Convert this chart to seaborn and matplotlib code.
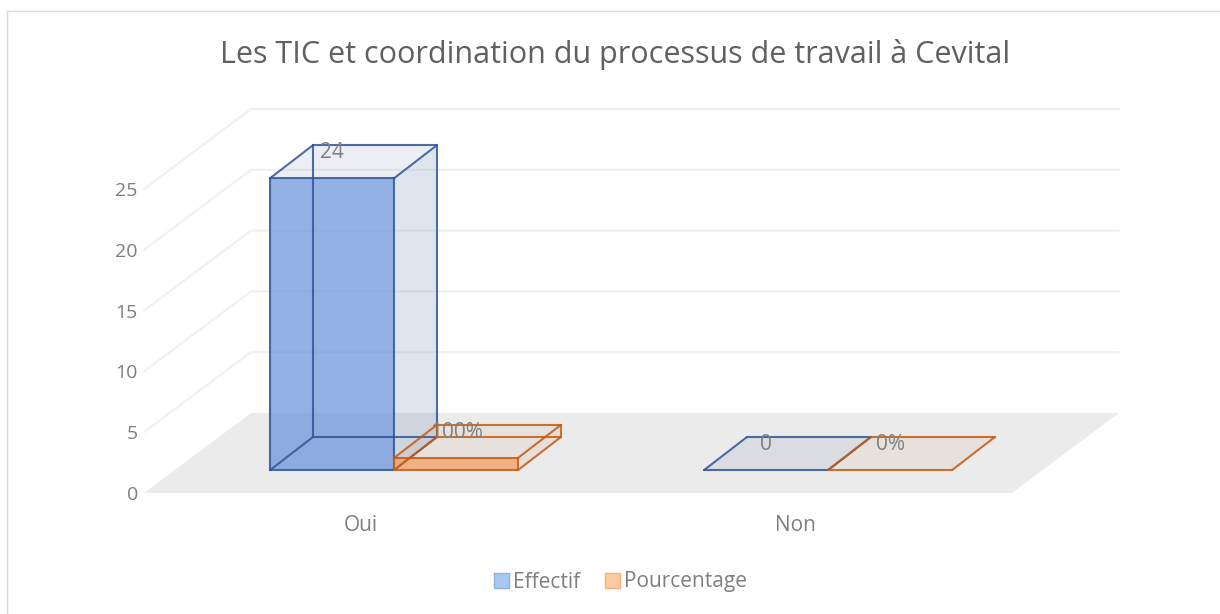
#!/usr/bin/env python3
from matplotlib import pyplot as plt
from matplotlib.lines import Line2D
from matplotlib.patches import Polygon
import pandas as pd
import seaborn as sns

categories = ['Oui', 'Non']
effectif = [24, 0]
pourcentage = [1, 0]
effectif_labels = ['24', '0']
pourcentage_labels = ['100%', '0%']
y_ticks = [0, 5, 10, 15, 20, 25]

TITLE = 'Les TIC et coordination du processus de travail à Cevital'
GREY = '#7F7F7F'

# fake 3d: how far the floor goes back, in axis units
DEPTH_X = 0.2465
DEPTH_Y = 6.58
BAR_FRONT = 0.31
BAR_BACK = 0.71
# the bars sit a bit lower on the floor than the x depth gives
BAR_FRONT_Y = 0.2875
BAR_BACK_Y = 0.70

df = pd.DataFrame({
    'cat': categories * 2,
    'val': effectif + pourcentage,
    'Serie': ['Effectif'] * 2 + ['Pourcentage'] * 2,
    'label': effectif_labels + pourcentage_labels,
})

sns.set_theme(style='white', rc={'axes.facecolor': 'white'})
plt.rcParams['font.family'] = ['Open Sans', 'DejaVu Sans']

fig = plt.figure(figsize=(12.2, 6.14), dpi=100)
ax = fig.add_axes([144 / 1220, 121 / 614, 868 / 1220, 304 / 614])
sns.barplot(
    ax=ax, data=df, x='cat', y='val', hue='Serie', width=0.5714, saturation=1,
    palette=['#A9C8F6', '#FBCB9F'], errorbar=None,
)
bars = [bar for container in ax.containers for bar in container]
ax.set_xlim(-0.5, 1.5)
ax.set_ylim(0, 25)
ax.set_xlabel('')
ax.set_ylabel('')
ax.set_yticks(y_ticks)
ax.tick_params(axis='both', length=0, labelcolor=GREY)
ax.tick_params(axis='x', pad=16, labelsize=15)
ax.tick_params(axis='y', pad=4.5, labelsize=14)
ax.patch.set_visible(False)
sns.despine(ax=ax, left=True, bottom=True)

# floor and walls
x0, x1 = ax.get_xlim()
ax.add_patch(Polygon(
    [(x0, 0), (x1, 0), (x1 + DEPTH_X, DEPTH_Y), (x0 + DEPTH_X, DEPTH_Y)],
    fc='#EBEBEB', ec='none', zorder=0, clip_on=False,
))
for v in y_ticks[1:]:
    ax.plot([x0, x0 + DEPTH_X, x1 + DEPTH_X], [v, v + DEPTH_Y, v + DEPTH_Y],
            color='#F0F0F0', lw=1.5, zorder=0.5, clip_on=False)

styles = {
    'Effectif': dict(edge='#2F5597', front=(0.396, 0.565, 0.859, 0.7),
                     side=(0.39, 0.49, 0.67, 0.2), top=(0.27, 0.35, 0.59, 0.1)),
    'Pourcentage': dict(edge='#C55A11', front=(0.96, 0.55, 0.25, 0.6),
                        side=(0.75, 0.55, 0.39, 0.12), top=(0.75, 0.55, 0.39, 0.1)),
}

series = ['Effectif', 'Effectif', 'Pourcentage', 'Pourcentage']
for bar, name, label in zip(bars, series, df['label']):
    st = styles[name]
    left, w, h = bar.get_x(), bar.get_width(), bar.get_height()
    a = (left + DEPTH_X * BAR_FRONT, DEPTH_Y * BAR_FRONT_Y)
    b = (left + w + DEPTH_X * BAR_FRONT, DEPTH_Y * BAR_FRONT_Y)
    c = (left + w + DEPTH_X * BAR_BACK, DEPTH_Y * BAR_BACK_Y)
    d = (left + DEPTH_X * BAR_BACK, DEPTH_Y * BAR_BACK_Y)
    up = lambda pt: (pt[0], pt[1] + h)
    z = 3 if name == 'Effectif' else 4
    # top and right faces, then the front
    ax.add_patch(Polygon([up(a), up(b), up(c), up(d)], fc=st['top'], ec='none',
                         zorder=z, clip_on=False))
    if h > 0:
        ax.add_patch(Polygon([b, c, up(c), up(b)], fc=st['side'], ec='none',
                             zorder=z, clip_on=False))
        ax.add_patch(Polygon([a, b, up(b), up(a)], fc=st['front'], ec='none',
                             zorder=z, clip_on=False))
    bar.set_visible(False)
    # wireframe, hidden edges too
    edges = [(up(a), up(b)), (up(b), up(c)), (up(c), up(d)), (up(d), up(a))]
    if h > 0:
        edges += [(a, b), (b, c), (c, d), (d, a), (a, up(a)), (b, up(b)),
                  (c, up(c)), (d, up(d))]
    for p, q in edges:
        ax.plot([p[0], q[0]], [p[1], q[1]], color=st['edge'], lw=1.5,
                alpha=0.85, solid_capstyle='round', zorder=z + 0.5, clip_on=False)
    ax.annotate(label, (a[0] + w / 2, up(d)[1]), xytext=(0, -5.5), textcoords='offset points',
                ha='center', va='center', color='#808080', fontsize=15, zorder=6,
                annotation_clip=False)

ax.set_xlim(x0, x1)
ax.set_ylim(0, 25)

sns.move_legend(
    ax, 'center', bbox_to_anchor=(620.5 / 1220, 1 - 582 / 614),
    bbox_transform=fig.transFigure, ncol=2, title=None, frameon=False,
    fontsize=15, labelcolor=GREY, handlelength=0.72, handleheight=0.72,
    handletextpad=0.2, columnspacing=1.15,
)
for handle, ec in zip(ax.get_legend().get_patches(), ['#8FB2EA', '#F2B27C']):
    handle.set_edgecolor(ec)
    handle.set_linewidth(1)

fig.text(615 / 1220, 1 - 54 / 614, TITLE, ha='center', va='center',
         fontsize=22, color='#606060')

# chart frame, cut by the image edge on the right and at the bottom
fig.add_artist(Line2D([6.5 / 1220, 6.5 / 1220], [0, 1 - 10.5 / 614], color='#D9D9D9', lw=1))
fig.add_artist(Line2D([6.5 / 1220, 1], [1 - 10.5 / 614, 1 - 10.5 / 614], color='#D9D9D9', lw=1))

fig.savefig('out.png', dpi=100)
